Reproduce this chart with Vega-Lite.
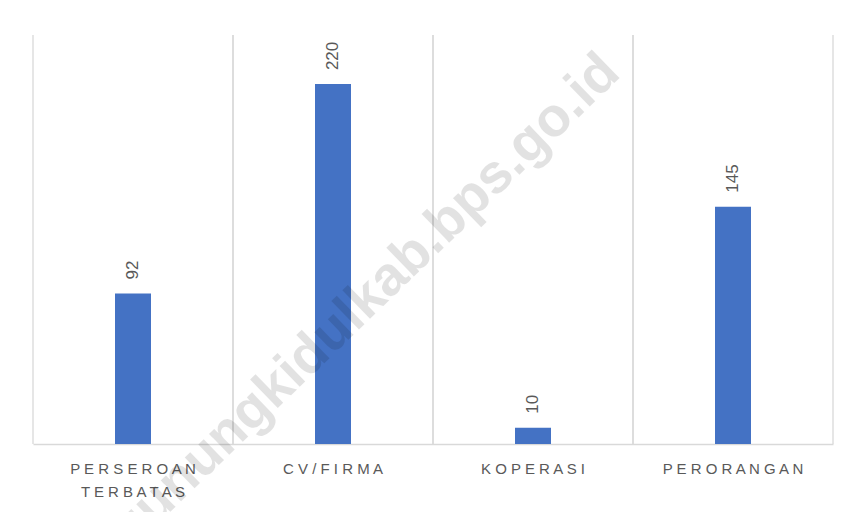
{
  "$schema": "https://vega.github.io/schema/vega-lite/v6.json",
  "width": 800,
  "height": 409,
  "autosize": {"type": "none"},
  "padding": {"left": 33, "top": 35, "right": 17, "bottom": 68},
  "background": "white",
  "config": {"view": {"stroke": null}, "font": "Liberation Sans"},
  "data": {"values": [
    {"category": "PERSEROAN TERBATAS", "value": 92},
    {"category": "CV/FIRMA", "value": 220},
    {"category": "KOPERASI", "value": 10},
    {"category": "PERORANGAN", "value": 145}
  ]},
  "layer": [
    {
      "mark": {"type": "rule", "color": "#d9d9d9", "strokeWidth": 1.3},
      "encoding": {
        "x": {"field": "category", "type": "nominal", "sort": null, "bandPosition": 0,
          "scale": {"paddingInner": 0, "paddingOuter": 0},
          "axis": {"title": null, "ticks": false, "grid": false, "domain": true, "domainColor": "#d9d9d9", "domainWidth": 1.3,
            "labelAngle": 0, "labelFontSize": 15, "labelColor": "#595959", "labelPadding": 17, "labelBaseline": "top", "labelLineHeight": 23,
            "labelExpr": "datum.value == 'PERSEROAN TERBATAS' ? ['P E R S E R O A N', 'T E R B A T A S'] : join(split(datum.value, ''), ' ')"}},
        "y": {"datum": 0, "type": "quantitative", "scale": {"domain": [0, 250], "nice": false}, "axis": null},
        "y2": {"datum": 250}
      }
    },
    {
      "mark": {"type": "rule", "color": "#d9d9d9", "strokeWidth": 1.3},
      "encoding": {
        "x": {"field": "category", "type": "nominal", "sort": null, "bandPosition": 1},
        "y": {"datum": 0, "type": "quantitative"},
        "y2": {"datum": 250}
      }
    },
    {
      "mark": {"type": "bar", "color": "#4472C4", "width": {"band": 0.18}},
      "encoding": {
        "x": {"field": "category", "type": "nominal", "sort": null},
        "y": {"field": "value", "type": "quantitative"}
      }
    },
    {
      "mark": {"type": "text", "angle": 270, "align": "left", "baseline": "middle", "dx": 14, "fontSize": 17, "color": "#595959"},
      "encoding": {
        "x": {"field": "category", "type": "nominal", "sort": null},
        "y": {"field": "value", "type": "quantitative"},
        "text": {"field": "value", "type": "quantitative"}
      }
    },
    {
      "data": {"values": [{"label": "gunungkidulkab.bps.go.id"}]},
      "mark": {"type": "text", "angle": 316, "align": "center", "baseline": "middle", "dx": 56, "dy": -13, "fontSize": 55, "fontWeight": "bold", "color": "#000000", "opacity": 0.11},
      "encoding": {
        "x": {"datum": "CV/FIRMA"},
        "y": {"datum": 58, "type": "quantitative"},
        "text": {"field": "label", "type": "nominal"}
      }
    }
  ]
}
